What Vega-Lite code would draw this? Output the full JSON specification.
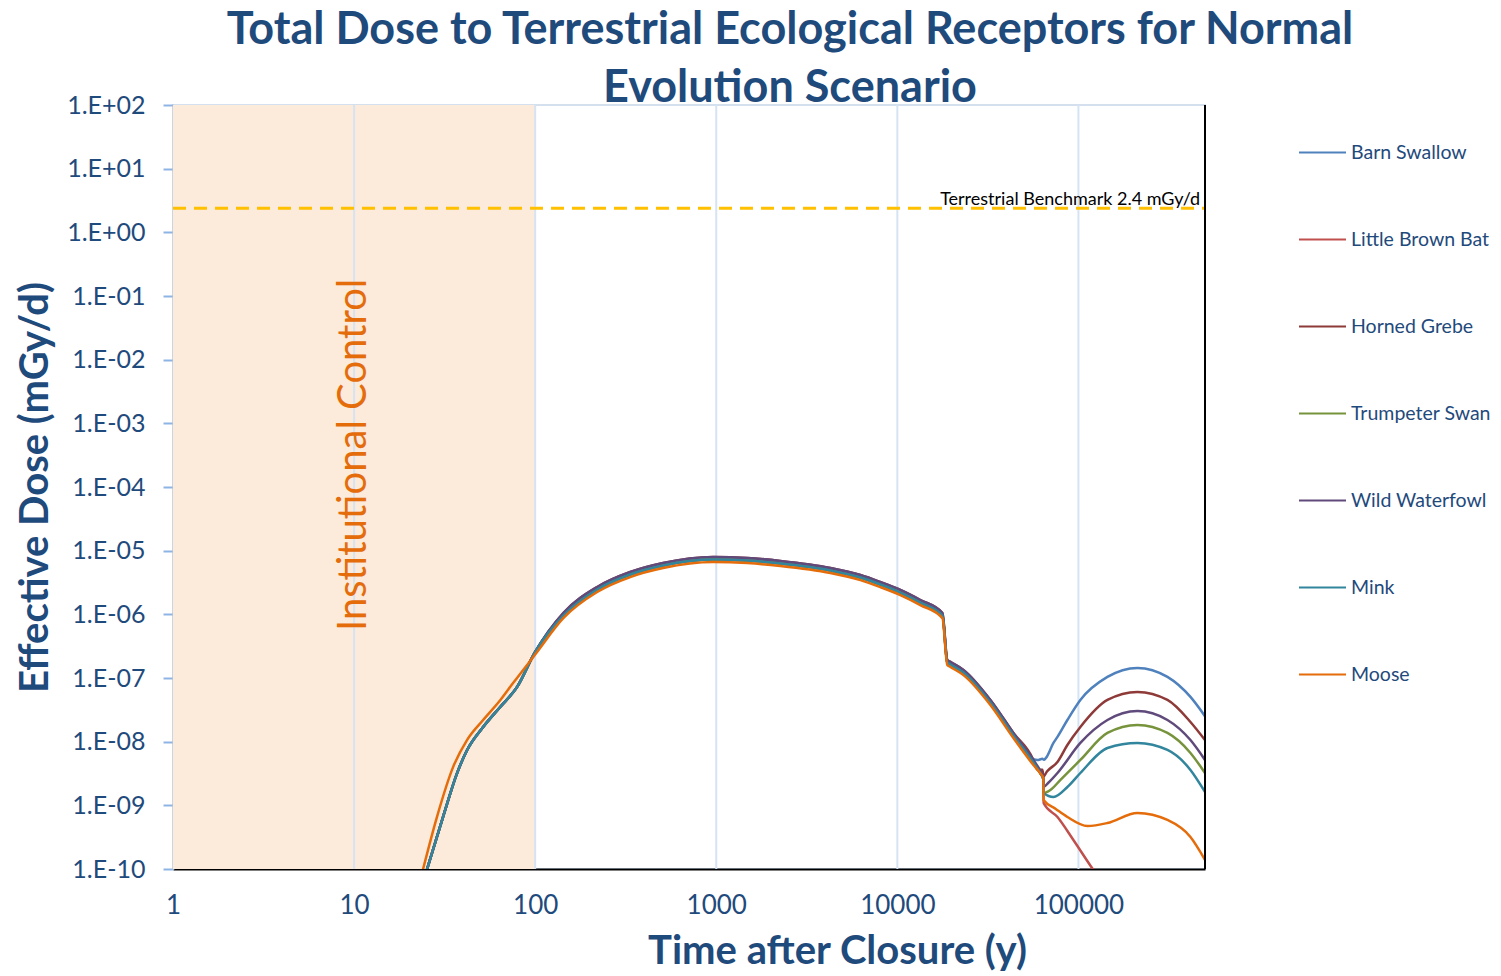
{
"$schema": "https://vega.github.io/schema/vega-lite/v6.json",
"width": 1032, "height": 764,
"autosize": {"type": "none"},
"padding": {"left": 173, "top": 105, "right": 296, "bottom": 107},
"background": "white",
"config": {"font": "Lato", "view": {"stroke": "#D5E0EF", "strokeWidth": 2}},
"title": {"text": ["Total Dose to Terrestrial Ecological Receptors for Normal", "Evolution Scenario"], "anchor": "middle", "frame": "group", "dx": 101, "offset": -18, "fontSize": 45, "fontWeight": "bold", "color": "#1F4A7C", "lineHeight": 58},
"datasets": {
"lines": [
{"species":"Barn Swallow","t":25,"dose":8.91e-11},{"species":"Barn Swallow","t":31,"dose":6.61e-10},{"species":"Barn Swallow","t":37.1,"dose":3.24e-9},{"species":"Barn Swallow","t":42.1,"dose":7.41e-9},{"species":"Barn Swallow","t":51.6,"dose":1.70e-8},{"species":"Barn Swallow","t":64.1,"dose":3.51e-8},{"species":"Barn Swallow","t":79.5,"dose":7.24e-8},{"species":"Barn Swallow","t":100,"dose":2.57e-7},
{"species":"Barn Swallow","t":143,"dose":9.55e-7},{"species":"Barn Swallow","t":220,"dose":2.45e-6},{"species":"Barn Swallow","t":335,"dose":4.22e-6},{"species":"Barn Swallow","t":509,"dose":5.85e-6},{"species":"Barn Swallow","t":962,"dose":7.26e-6},{"species":"Barn Swallow","t":1483,"dose":7.00e-6},{"species":"Barn Swallow","t":2258,"dose":6.28e-6},{"species":"Barn Swallow","t":4266,"dose":4.88e-6},{"species":"Barn Swallow","t":6250,"dose":3.78e-6},{"species":"Barn Swallow","t":8054,"dose":2.94e-6},{"species":"Barn Swallow","t":10390,"dose":2.20e-6},{"species":"Barn Swallow","t":13400,"dose":1.53e-6},{"species":"Barn Swallow","t":17740,"dose":9.57e-7},{"species":"Barn Swallow","t":18880,"dose":1.75e-7},{"species":"Barn Swallow","t":19630,"dose":1.63e-7},{"species":"Barn Swallow","t":23170,"dose":1.22e-7},{"species":"Barn Swallow","t":32640,"dose":4.12e-8},{"species":"Barn Swallow","t":43750,"dose":1.25e-8},
{"species":"Barn Swallow","t":54300,"dose":5.62e-9},{"species":"Barn Swallow","t":59300,"dose":5.13e-9},{"species":"Barn Swallow","t":63300,"dose":5.37e-9},{"species":"Barn Swallow","t":64500,"dose":5.2e-9},{"species":"Barn Swallow","t":66000,"dose":5.5e-9},{"species":"Barn Swallow","t":72800,"dose":9.55e-9},{"species":"Barn Swallow","t":76600,"dose":1.19e-8},{"species":"Barn Swallow","t":86900,"dose":2.19e-8},{"species":"Barn Swallow","t":102500,"dose":4.52e-8},{"species":"Barn Swallow","t":144600,"dose":1.04e-7},{"species":"Barn Swallow","t":211800,"dose":1.44e-7},{"species":"Barn Swallow","t":310200,"dose":1.04e-7},{"species":"Barn Swallow","t":415600,"dose":5.04e-8},{"species":"Barn Swallow","t":500000,"dose":2.51e-8},

{"species":"Little Brown Bat","t":25,"dose":8.91e-11},{"species":"Little Brown Bat","t":31,"dose":6.61e-10},{"species":"Little Brown Bat","t":37.1,"dose":3.24e-9},{"species":"Little Brown Bat","t":42.1,"dose":7.41e-9},{"species":"Little Brown Bat","t":51.6,"dose":1.70e-8},{"species":"Little Brown Bat","t":64.1,"dose":3.51e-8},{"species":"Little Brown Bat","t":79.5,"dose":7.24e-8},{"species":"Little Brown Bat","t":100,"dose":2.57e-7},
{"species":"Little Brown Bat","t":143,"dose":9.55e-7},{"species":"Little Brown Bat","t":220,"dose":2.45e-6},{"species":"Little Brown Bat","t":335,"dose":4.22e-6},{"species":"Little Brown Bat","t":509,"dose":5.85e-6},{"species":"Little Brown Bat","t":962,"dose":7.26e-6},{"species":"Little Brown Bat","t":1483,"dose":7.00e-6},{"species":"Little Brown Bat","t":2258,"dose":6.28e-6},{"species":"Little Brown Bat","t":4266,"dose":4.88e-6},{"species":"Little Brown Bat","t":6250,"dose":3.78e-6},{"species":"Little Brown Bat","t":8054,"dose":2.94e-6},{"species":"Little Brown Bat","t":10390,"dose":2.20e-6},{"species":"Little Brown Bat","t":13400,"dose":1.53e-6},{"species":"Little Brown Bat","t":17740,"dose":9.57e-7},{"species":"Little Brown Bat","t":18880,"dose":1.75e-7},{"species":"Little Brown Bat","t":19630,"dose":1.63e-7},{"species":"Little Brown Bat","t":23170,"dose":1.22e-7},{"species":"Little Brown Bat","t":32640,"dose":4.12e-8},{"species":"Little Brown Bat","t":43750,"dose":1.25e-8},
{"species":"Little Brown Bat","t":56400,"dose":4.71e-9},{"species":"Little Brown Bat","t":61700,"dose":3.16e-9},{"species":"Little Brown Bat","t":64000,"dose":2.57e-9},{"species":"Little Brown Bat","t":64200,"dose":1.09e-9},{"species":"Little Brown Bat","t":76600,"dose":6.56e-10},{"species":"Little Brown Bat","t":93800,"dose":2.86e-10},{"species":"Little Brown Bat","t":121000,"dose":9.66e-11},{"species":"Little Brown Bat","t":132400,"dose":6.76e-11},

{"species":"Horned Grebe","t":25,"dose":8.91e-11},{"species":"Horned Grebe","t":31,"dose":6.61e-10},{"species":"Horned Grebe","t":37.1,"dose":3.24e-9},{"species":"Horned Grebe","t":42.1,"dose":7.41e-9},{"species":"Horned Grebe","t":51.6,"dose":1.70e-8},{"species":"Horned Grebe","t":64.1,"dose":3.51e-8},{"species":"Horned Grebe","t":79.5,"dose":7.24e-8},{"species":"Horned Grebe","t":100,"dose":2.57e-7},
{"species":"Horned Grebe","t":143,"dose":1.05e-6},{"species":"Horned Grebe","t":220,"dose":2.69e-6},{"species":"Horned Grebe","t":335,"dose":4.62e-6},{"species":"Horned Grebe","t":509,"dose":6.41e-6},{"species":"Horned Grebe","t":962,"dose":7.96e-6},{"species":"Horned Grebe","t":1483,"dose":7.67e-6},{"species":"Horned Grebe","t":2258,"dose":6.89e-6},{"species":"Horned Grebe","t":4266,"dose":5.35e-6},{"species":"Horned Grebe","t":6250,"dose":4.15e-6},{"species":"Horned Grebe","t":8054,"dose":3.22e-6},{"species":"Horned Grebe","t":10390,"dose":2.42e-6},{"species":"Horned Grebe","t":13400,"dose":1.68e-6},{"species":"Horned Grebe","t":17740,"dose":1.05e-6},{"species":"Horned Grebe","t":18880,"dose":1.92e-7},{"species":"Horned Grebe","t":19630,"dose":1.79e-7},{"species":"Horned Grebe","t":23170,"dose":1.34e-7},{"species":"Horned Grebe","t":32640,"dose":4.52e-8},{"species":"Horned Grebe","t":43750,"dose":1.37e-8},{"species":"Horned Grebe","t":56400,"dose":5.16e-9},
{"species":"Horned Grebe","t":59300,"dose":3.63e-9},{"species":"Horned Grebe","t":63300,"dose":3.63e-9},{"species":"Horned Grebe","t":64000,"dose":2.82e-9},{"species":"Horned Grebe","t":67000,"dose":3.39e-9},{"species":"Horned Grebe","t":76600,"dose":4.80e-9},{"species":"Horned Grebe","t":86900,"dose":8.87e-9},{"species":"Horned Grebe","t":102500,"dose":1.70e-8},{"species":"Horned Grebe","t":144600,"dose":4.52e-8},{"species":"Horned Grebe","t":211800,"dose":6.04e-8},{"species":"Horned Grebe","t":310200,"dose":4.52e-8},{"species":"Horned Grebe","t":415600,"dose":2.04e-8},{"species":"Horned Grebe","t":500000,"dose":1.06e-8},

{"species":"Trumpeter Swan","t":25,"dose":8.91e-11},{"species":"Trumpeter Swan","t":31,"dose":6.61e-10},{"species":"Trumpeter Swan","t":37.1,"dose":3.24e-9},{"species":"Trumpeter Swan","t":42.1,"dose":7.41e-9},{"species":"Trumpeter Swan","t":51.6,"dose":1.70e-8},{"species":"Trumpeter Swan","t":64.1,"dose":3.51e-8},{"species":"Trumpeter Swan","t":79.5,"dose":7.24e-8},{"species":"Trumpeter Swan","t":100,"dose":2.57e-7},
{"species":"Trumpeter Swan","t":143,"dose":9.55e-7},{"species":"Trumpeter Swan","t":220,"dose":2.45e-6},{"species":"Trumpeter Swan","t":335,"dose":4.22e-6},{"species":"Trumpeter Swan","t":509,"dose":5.85e-6},{"species":"Trumpeter Swan","t":962,"dose":7.26e-6},{"species":"Trumpeter Swan","t":1483,"dose":7.00e-6},{"species":"Trumpeter Swan","t":2258,"dose":6.28e-6},{"species":"Trumpeter Swan","t":4266,"dose":4.88e-6},{"species":"Trumpeter Swan","t":6250,"dose":3.78e-6},{"species":"Trumpeter Swan","t":8054,"dose":2.94e-6},{"species":"Trumpeter Swan","t":10390,"dose":2.20e-6},{"species":"Trumpeter Swan","t":13400,"dose":1.53e-6},{"species":"Trumpeter Swan","t":17740,"dose":9.57e-7},{"species":"Trumpeter Swan","t":18880,"dose":1.75e-7},{"species":"Trumpeter Swan","t":19630,"dose":1.63e-7},{"species":"Trumpeter Swan","t":23170,"dose":1.22e-7},{"species":"Trumpeter Swan","t":32640,"dose":4.12e-8},{"species":"Trumpeter Swan","t":43750,"dose":1.25e-8},
{"species":"Trumpeter Swan","t":56400,"dose":4.71e-9},{"species":"Trumpeter Swan","t":61700,"dose":3.16e-9},{"species":"Trumpeter Swan","t":64000,"dose":2.57e-9},{"species":"Trumpeter Swan","t":64200,"dose":1.56e-9},{"species":"Trumpeter Swan","t":70000,"dose":1.74e-9},{"species":"Trumpeter Swan","t":79600,"dose":2.51e-9},{"species":"Trumpeter Swan","t":102500,"dose":5.16e-9},{"species":"Trumpeter Swan","t":144600,"dose":1.37e-8},{"species":"Trumpeter Swan","t":211800,"dose":1.83e-8},{"species":"Trumpeter Swan","t":310200,"dose":1.37e-8},{"species":"Trumpeter Swan","t":415600,"dose":6.65e-9},{"species":"Trumpeter Swan","t":500000,"dose":3.22e-9},

{"species":"Wild Waterfowl","t":25,"dose":8.91e-11},{"species":"Wild Waterfowl","t":31,"dose":6.61e-10},{"species":"Wild Waterfowl","t":37.1,"dose":3.24e-9},{"species":"Wild Waterfowl","t":42.1,"dose":7.41e-9},{"species":"Wild Waterfowl","t":51.6,"dose":1.70e-8},{"species":"Wild Waterfowl","t":64.1,"dose":3.51e-8},{"species":"Wild Waterfowl","t":79.5,"dose":7.24e-8},{"species":"Wild Waterfowl","t":100,"dose":2.57e-7},
{"species":"Wild Waterfowl","t":143,"dose":1.05e-6},{"species":"Wild Waterfowl","t":220,"dose":2.69e-6},{"species":"Wild Waterfowl","t":335,"dose":4.62e-6},{"species":"Wild Waterfowl","t":509,"dose":6.41e-6},{"species":"Wild Waterfowl","t":962,"dose":7.96e-6},{"species":"Wild Waterfowl","t":1483,"dose":7.67e-6},{"species":"Wild Waterfowl","t":2258,"dose":6.89e-6},{"species":"Wild Waterfowl","t":4266,"dose":5.35e-6},{"species":"Wild Waterfowl","t":6250,"dose":4.15e-6},{"species":"Wild Waterfowl","t":8054,"dose":3.22e-6},{"species":"Wild Waterfowl","t":10390,"dose":2.42e-6},{"species":"Wild Waterfowl","t":13400,"dose":1.68e-6},{"species":"Wild Waterfowl","t":17740,"dose":1.05e-6},{"species":"Wild Waterfowl","t":18880,"dose":1.92e-7},{"species":"Wild Waterfowl","t":19630,"dose":1.79e-7},{"species":"Wild Waterfowl","t":23170,"dose":1.34e-7},{"species":"Wild Waterfowl","t":32640,"dose":4.52e-8},{"species":"Wild Waterfowl","t":43750,"dose":1.37e-8},{"species":"Wild Waterfowl","t":56400,"dose":5.16e-9},
{"species":"Wild Waterfowl","t":61700,"dose":3.47e-9},{"species":"Wild Waterfowl","t":64000,"dose":2.82e-9},{"species":"Wild Waterfowl","t":64200,"dose":1.94e-9},{"species":"Wild Waterfowl","t":68000,"dose":2.24e-9},{"species":"Wild Waterfowl","t":76600,"dose":3.22e-9},{"species":"Wild Waterfowl","t":102500,"dose":9.55e-9},{"species":"Wild Waterfowl","t":144600,"dose":2.19e-8},{"species":"Wild Waterfowl","t":211800,"dose":3.03e-8},{"species":"Wild Waterfowl","t":310200,"dose":2.19e-8},{"species":"Wild Waterfowl","t":415600,"dose":1.06e-8},{"species":"Wild Waterfowl","t":500000,"dose":5.16e-9},

{"species":"Mink","t":25,"dose":8.91e-11},{"species":"Mink","t":31,"dose":6.61e-10},{"species":"Mink","t":37.1,"dose":3.24e-9},{"species":"Mink","t":42.1,"dose":7.41e-9},{"species":"Mink","t":51.6,"dose":1.70e-8},{"species":"Mink","t":64.1,"dose":3.51e-8},{"species":"Mink","t":79.5,"dose":7.24e-8},{"species":"Mink","t":100,"dose":2.57e-7},
{"species":"Mink","t":143,"dose":9.55e-7},{"species":"Mink","t":220,"dose":2.45e-6},{"species":"Mink","t":335,"dose":4.22e-6},{"species":"Mink","t":509,"dose":5.85e-6},{"species":"Mink","t":962,"dose":7.26e-6},{"species":"Mink","t":1483,"dose":7.00e-6},{"species":"Mink","t":2258,"dose":6.28e-6},{"species":"Mink","t":4266,"dose":4.88e-6},{"species":"Mink","t":6250,"dose":3.78e-6},{"species":"Mink","t":8054,"dose":2.94e-6},{"species":"Mink","t":10390,"dose":2.20e-6},{"species":"Mink","t":13400,"dose":1.53e-6},{"species":"Mink","t":17740,"dose":9.57e-7},{"species":"Mink","t":18880,"dose":1.75e-7},{"species":"Mink","t":19630,"dose":1.63e-7},{"species":"Mink","t":23170,"dose":1.22e-7},{"species":"Mink","t":32640,"dose":4.12e-8},{"species":"Mink","t":43750,"dose":1.25e-8},
{"species":"Mink","t":56400,"dose":4.71e-9},{"species":"Mink","t":61700,"dose":3.16e-9},{"species":"Mink","t":64000,"dose":2.57e-9},{"species":"Mink","t":64200,"dose":1.56e-9},{"species":"Mink","t":72800,"dose":1.35e-9},{"species":"Mink","t":86900,"dose":1.94e-9},{"species":"Mink","t":102500,"dose":3.22e-9},{"species":"Mink","t":144600,"dose":7.96e-9},{"species":"Mink","t":211800,"dose":9.55e-9},{"species":"Mink","t":310200,"dose":7.41e-9},{"species":"Mink","t":415600,"dose":3.60e-9},{"species":"Mink","t":500000,"dose":1.62e-9},

{"species":"Moose","t":23.8,"dose":8.91e-11},{"species":"Moose","t":28.7,"dose":6.61e-10},{"species":"Moose","t":35.2,"dose":3.98e-9},{"species":"Moose","t":42.1,"dose":1.07e-8},{"species":"Moose","t":51.6,"dose":2.19e-8},{"species":"Moose","t":64.1,"dose":4.47e-8},{"species":"Moose","t":75.5,"dose":8.32e-8},{"species":"Moose","t":100,"dose":2.34e-7},
{"species":"Moose","t":143,"dose":8.71e-7},{"species":"Moose","t":220,"dose":2.24e-6},{"species":"Moose","t":335,"dose":3.85e-6},{"species":"Moose","t":509,"dose":5.33e-6},{"species":"Moose","t":962,"dose":6.62e-6},{"species":"Moose","t":1483,"dose":6.38e-6},{"species":"Moose","t":2258,"dose":5.73e-6},{"species":"Moose","t":4266,"dose":4.45e-6},{"species":"Moose","t":6250,"dose":3.45e-6},{"species":"Moose","t":8054,"dose":2.68e-6},{"species":"Moose","t":10390,"dose":2.01e-6},{"species":"Moose","t":13400,"dose":1.40e-6},{"species":"Moose","t":17740,"dose":8.73e-7},{"species":"Moose","t":18880,"dose":1.60e-7},{"species":"Moose","t":19630,"dose":1.49e-7},{"species":"Moose","t":23170,"dose":1.11e-7},{"species":"Moose","t":32640,"dose":3.76e-8},{"species":"Moose","t":43750,"dose":1.14e-8},{"species":"Moose","t":56400,"dose":4.30e-9},
{"species":"Moose","t":61700,"dose":3.16e-9},{"species":"Moose","t":64000,"dose":2.69e-9},{"species":"Moose","t":64200,"dose":1.21e-9},{"species":"Moose","t":75000,"dose":8.77e-10},{"species":"Moose","t":86900,"dose":6.56e-10},{"species":"Moose","t":112100,"dose":4.73e-10},{"species":"Moose","t":144600,"dose":5.28e-10},{"species":"Moose","t":211800,"dose":7.59e-10},{"species":"Moose","t":310200,"dose":5.89e-10},{"species":"Moose","t":415600,"dose":3.18e-10},{"species":"Moose","t":500000,"dose":1.39e-10}
]
},
"encoding": {
 "x": {"field": "t", "type": "quantitative", "scale": {"type": "log", "domain": [1, 500000], "nice": false},
  "axis": {"values": [1, 10, 100, 1000, 10000, 100000], "format": "d", "title": "Time after Closure (y)", "grid": false, "ticks": false, "domainColor": "#000000", "domainWidth": 2, "labelFontSize": 26, "labelColor": "#1F4A7C", "labelPadding": 23, "labelFlush": false, "titleFontSize": 40, "titleFontWeight": "bold", "titleColor": "#1F4A7C", "titleX": 664, "titleY": 94, "titleBaseline": "alphabetic", "titleAlign": "center"}},
 "y": {"field": "dose", "type": "quantitative", "scale": {"type": "log", "domain": [1e-10, 100], "nice": false},
  "axis": {"values": [1e-10, 1e-9, 1e-8, 1e-7, 1e-6, 1e-5, 1e-4, 1e-3, 1e-2, 1e-1, 1, 10, 100], "labelExpr": "'1.E' + (datum.value >= 1 ? '+' : '-') + (abs(round(log(datum.value)/LN10)) < 10 ? '0' : '') + abs(round(log(datum.value)/LN10))", "title": "Effective Dose (mGy/d)", "grid": false, "domainColor": "#BFC7D5", "domainWidth": 2, "tickColor": "#8EB4E3", "tickWidth": 2, "tickSize": 10, "labelPadding": 18, "labelFontSize": 25, "labelColor": "#1F4A7C", "labelFlush": false, "titleFontSize": 40, "titleFontWeight": "bold", "titleColor": "#1F4A7C", "titleX": -138, "titleY": 382, "titleBaseline": "middle", "titleAlign": "center"}}
},
"layer": [
{"data": {"values": [{"t": 1, "t2": 100, "dose": 100, "dose2": 1e-10}]},
 "mark": {"type": "rect", "color": "#FCEADB"},
 "encoding": {"x2": {"field": "t2"}, "y2": {"field": "dose2"}}},
{"data": {"values": [{"t": 10, "dose": 100, "dose2": 1e-10}, {"t": 100, "dose": 100, "dose2": 1e-10}, {"t": 1000, "dose": 100, "dose2": 1e-10}, {"t": 10000, "dose": 100, "dose2": 1e-10}, {"t": 100000, "dose": 100, "dose2": 1e-10}]},
 "mark": {"type": "rule", "color": "#D6E3F3", "strokeWidth": 2},
 "encoding": {"y2": {"field": "dose2"}}},
{"data": {"values": [{"t": 1, "t2": 500000, "dose": 2.4}]},
 "mark": {"type": "rule", "color": "#FFC000", "strokeWidth": 3, "strokeDash": [13, 8]},
 "encoding": {"x2": {"field": "t2"}}},
{"data": {"name": "lines"},
 "mark": {"type": "line", "strokeWidth": 2.5, "clip": true, "interpolate": "monotone"},
 "encoding": {
  "color": {"field": "species", "type": "nominal",
   "scale": {"domain": ["Barn Swallow", "Little Brown Bat", "Horned Grebe", "Trumpeter Swan", "Wild Waterfowl", "Mink", "Moose"], "range": ["#4F81BD", "#C0504D", "#8E3A38", "#77933C", "#604A7B", "#31859C", "#E46C0A"]},
   "legend": {"title": null, "orient": "none", "legendX": 1125, "legendY": 23, "symbolType": "stroke", "symbolSize": 2209, "symbolStrokeWidth": 2, "labelFontSize": 19.5, "labelColor": "#1F4A7C", "rowPadding": 53, "labelOffset": 4, "labelLimit": 300}}}},
{"data": {"values": [{"t": 470000, "dose": 2.4, "label": "Terrestrial Benchmark 2.4 mGy/d"}]},
 "mark": {"type": "text", "align": "right", "baseline": "bottom", "dy": 1, "fontSize": 18, "color": "#000000"},
 "encoding": {"text": {"field": "label"}}},
{"data": {"values": [{"t": 10, "dose": 3.2e-4, "label": "Institutional Control"}]},
 "mark": {"type": "text", "angle": 270, "align": "center", "baseline": "middle", "fontSize": 40, "color": "#E46C0A"},
 "encoding": {"text": {"field": "label"}}},
{"data": {"values": [{"t": 500000, "dose": 100, "dose2": 1e-10}]},
 "mark": {"type": "rule", "color": "#000000", "strokeWidth": 2},
 "encoding": {"y2": {"field": "dose2"}}}
]
}
